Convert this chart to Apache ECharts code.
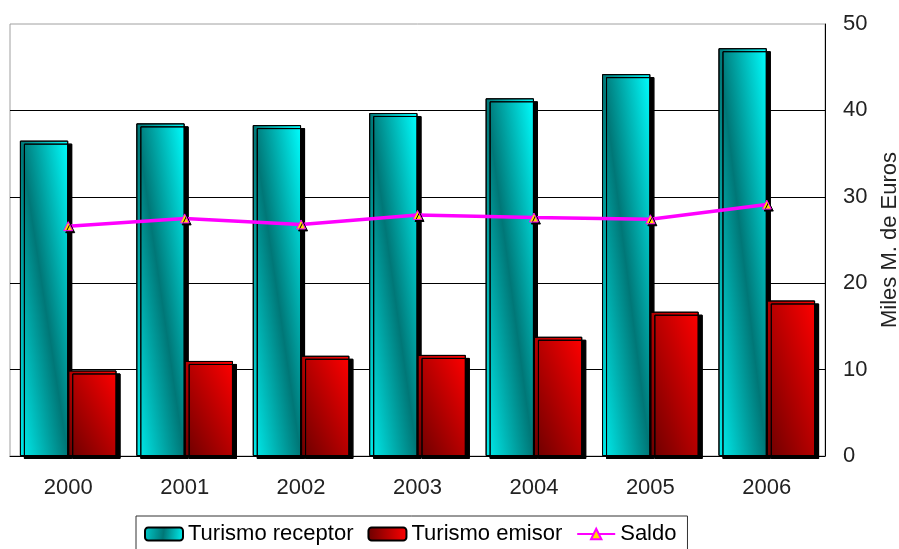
<!DOCTYPE html>
<html><head><meta charset="utf-8">
<script src="https://cdn.jsdelivr.net/npm/echarts@6/dist/echarts.min.js"></script>
<style>html,body{margin:0;padding:0;background:#fff}#c{width:899px;height:549px}</style>
</head><body><div id="c"></div>
<script>
const categories = ['2000','2001','2002','2003','2004','2005','2006'];
const receptor = [36.5, 38.5, 38.3, 39.7, 41.4, 44.2, 47.2];
const emisor = [9.9, 11.0, 11.6, 11.7, 13.8, 16.7, 18.0];
const saldo = [26.6, 27.5, 26.8, 27.9, 27.6, 27.4, 29.1];
const yTicks = [0, 10, 20, 30, 40, 50];

const font = 'Liberation Sans, Arial, sans-serif';
const el = document.getElementById('c');
const chart = echarts.init(el);

// Diagonal (bbox-corner to bbox-corner) gradient, Excel style.
// Aspect ratio of the bar is measured from the rendered axis scale.
function diagGrad(stops, dataIndex, seriesIndex) {
  const vals = seriesIndex === 0 ? receptor : emisor;
  const p0 = chart.convertToPixel({yAxisIndex: 0}, 0);
  const p1 = chart.convertToPixel({yAxisIndex: 0}, vals[dataIndex]);
  const h = Math.max(1, Math.abs(p0 - p1));
  const w = 48;
  const s = h * h + w * w;
  const dx = h * h / s, dy = w * w / s;
  return new echarts.graphic.LinearGradient(0.5 - dx, 0.5 + dy, 0.5 + dx, 0.5 - dy, stops);
}
const tealStops = [{offset: 0, color: '#00f0f0'}, {offset: 0.5, color: '#007777'}, {offset: 1, color: '#00ffff'}];
const redStops = [{offset: 0, color: '#6a0000'}, {offset: 1, color: '#ff0000'}];

const baseOption = {
  animation: false,
  textStyle: {fontFamily: font},
  grid: {left: 10, right: 74, top: 24, bottom: 93, show: true, borderColor: '#a0a0a0', borderWidth: 1,
    containLabel: false, outerBoundsMode: 'none'},
  legend: {
    left: 136, top: 516, padding: [7, 11, 12, 8], itemGap: 14,
    borderColor: '#333', borderWidth: 1, borderRadius: 0,
    itemWidth: 38, itemHeight: 13,
    textStyle: {fontSize: 22, color: '#000', fontFamily: font},
    data: [
      {name: 'Turismo receptor', itemStyle: {color: new echarts.graphic.LinearGradient(0, 0, 1, 0.3, [
        {offset: 0, color: '#00cccc'}, {offset: 0.5, color: '#007777'}, {offset: 1, color: '#00eeee'}])}},
      {name: 'Turismo emisor', itemStyle: {color: new echarts.graphic.LinearGradient(0, 0, 1, 0, redStops)}},
      {name: 'Saldo'}
    ]
  },
  xAxis: {
    type: 'category', data: categories,
    axisLine: {lineStyle: {color: '#000', width: 1}},
    axisTick: {show: false},
    axisLabel: {fontSize: 22, color: '#222', margin: 21}
  },
  yAxis: {
    type: 'value', position: 'right', min: 0, max: 50, interval: 10,
    name: 'Miles M. de Euros', nameLocation: 'middle', nameRotate: 90, nameGap: 54,
    nameTextStyle: {fontSize: 22, color: '#222'},
    axisLine: {show: true, lineStyle: {color: '#000'}},
    axisTick: {show: false},
    axisLabel: {fontSize: 22, color: '#222', margin: 18,
      formatter: v => yTicks.includes(v) ? String(v) : ''},
    splitLine: {showMaxLine: false, showMinLine: false, lineStyle: {color: '#000', width: 1}}
  },
  series: [
    {name: 'Turismo receptor', type: 'bar', data: receptor, barGap: '0%', barCategoryGap: '17%',
      itemStyle: {color: '#00aaaa', borderColor: '#000', borderWidth: 1,
        shadowColor: '#000', shadowOffsetX: 4, shadowOffsetY: 3, shadowBlur: 0}},
    {name: 'Turismo emisor', type: 'bar', data: emisor,
      itemStyle: {color: '#cc0000', borderColor: '#000', borderWidth: 1,
        shadowColor: '#000', shadowOffsetX: 4, shadowOffsetY: 3, shadowBlur: 0}},
    {name: 'Saldo', type: 'line', data: saldo, z: 5,
      symbol: 'triangle', symbolSize: 9,
      lineStyle: {color: '#ff00ff', width: 3.5},
      itemStyle: {color: '#ffdd00', borderColor: '#ff00ff', borderWidth: 1,
        shadowColor: '#000', shadowOffsetX: 2, shadowOffsetY: 2, shadowBlur: 0}}
  ]
};
chart.setOption(baseOption);
// Now that scales exist, apply per-bar diagonal gradients.
chart.setOption({
  series: [
    {data: receptor.map((v, i) => ({value: v, itemStyle: {color: diagGrad(tealStops, i, 0)}}))},
    {data: emisor.map((v, i) => ({value: v, itemStyle: {color: diagGrad(redStops, i, 1)}}))}
  ]
});
</script></body></html>
